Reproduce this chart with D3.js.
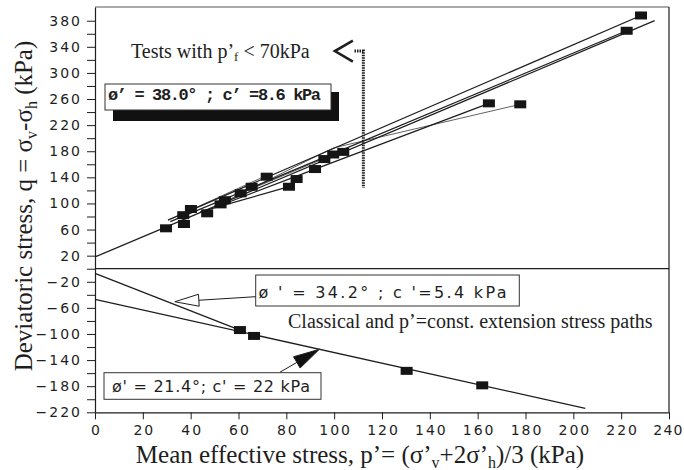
<!DOCTYPE html>
<html><head><meta charset="utf-8">
<script src="https://cdn.jsdelivr.net/npm/d3@7"></script>
<style>
body{margin:0;background:#fff;}
svg{display:block;}
</style></head><body>
<script>
// ---------------- data ----------------
// compression failure points (p', q)
const compP = [29.7, 37.2, 36.9, 40.1, 46.9, 52.5, 54.3, 60.9, 65.5, 71.8, 81.1, 84.3, 92.0, 95.9, 99.6, 103.8, 164.7, 177.8, 222.3, 228.3];
const compQ = [61.9, 68.5, 82.0, 91.5, 84.9, 98.6, 105.0, 115.5, 125.6, 141.0, 125.6, 137.4, 152.7, 168.0, 175.0, 179.0, 253.4, 251.9, 364.6, 388.0];
// extension failure points
const extP = [60.6, 66.5, 130.3, 161.9];
const extQ = [-94.0, -103.0, -156.5, -178.7];
// failure envelopes / stress paths (p', q) pairs
const envelopeComp = [[0, 18], [234, 380]];
const pathTop = [[30.5, 74.5], [228.3, 388]];
const path2 = [[31.5, 72], [222.3, 364.6]];
const path4 = [[53, 98], [92, 152.7], [164.7, 253.4]];
const path5 = [[44, 87], [81.1, 125.6]];
const thin1 = [[55, 104], [85.7, 160], [99.6, 185], [177.8, 251.9]];
const thin2 = [[60.9, 115.5], [103.8, 181]];
const thin3 = [[40, 90], [71.8, 143]];
const envExt1 = [[0, -7], [60.6, -94]];
const envExt2 = [[0, -47], [205, -214]];
// ticks
const xTicks = [0, 20, 40, 60, 80, 100, 120, 140, 160, 180, 200, 220, 240];
const yTicks = [-220, -200, -180, -160, -140, -120, -100, -80, -60, -40, -20, 0, 20, 40, 60, 80, 100, 120, 140, 160, 180, 200, 220, 240, 260, 280, 300, 320, 340, 360, 380];
const yLabels = [380, 340, 300, 260, 220, 180, 140, 100, 60, 20, -20, -60, -100, -140, -180, -220];

// ---------------- chart ----------------
const W = 684, H = 470;
const svg = d3.select("body").append("svg").attr("width", W).attr("height", H);
const x = d3.scaleLinear().domain([0, 240]).range([95, 669]);
const y = d3.scaleLinear().domain([-220, 401]).range([412.3, 7]);
const ink = "#1e1e1e";
const tickFont = "'DejaVu Sans', sans-serif";
const serif = "'Liberation Serif', 'Times New Roman', serif";

// frame top & right
svg.append("line").attr("x1", x(0)).attr("x2", x(240)).attr("y1", y(401)).attr("y2", y(401))
  .attr("stroke", "#555").attr("stroke-width", 1.2);
svg.append("line").attr("x1", x(240)).attr("x2", x(240)).attr("y1", y(401)).attr("y2", y(-220))
  .attr("stroke", ink).attr("stroke-width", 1.2);
// zero line
svg.append("line").attr("x1", x(0)).attr("x2", x(240)).attr("y1", y(0)).attr("y2", y(0))
  .attr("stroke", ink).attr("stroke-width", 1.2);

// axes
const fmt = d => (d < 0 ? "\u2212" + Math.abs(d) : String(d));
const yAxis = d3.axisLeft(y).tickValues(yTicks).tickSize(8).tickSizeOuter(0).tickPadding(5)
  .tickFormat(d => yLabels.includes(d) ? fmt(d) : "");
const gy = svg.append("g").attr("transform", `translate(${x(0)},0)`).call(yAxis);
const xAxis = d3.axisBottom(x).tickValues(xTicks).tickSize(7).tickSizeOuter(0).tickPadding(6);
const gx = svg.append("g").attr("transform", `translate(0,${y(-220)})`).call(xAxis);
[gx, gy].forEach(g => {
  g.select(".domain").attr("stroke", ink).attr("stroke-width", 1.2);
  g.selectAll(".tick line").attr("stroke", ink).attr("stroke-width", 1);
  g.selectAll(".tick text").attr("font-family", tickFont).attr("font-size", 14)
    .attr("letter-spacing", 2).attr("fill", ink);
});
gx.selectAll(".tick text").attr("dx", 1);
gx.selectAll(".tick text").filter(d => d === 240).attr("letter-spacing", 1.2).attr("dx", -1);

// lines
const line = d3.line().x(d => x(d[0])).y(d => y(d[1]));
const thick = [envelopeComp, pathTop, path2, path4, path5, envExt1, envExt2];
const thin = [thin1, thin2, thin3];
svg.append("g").selectAll("path").data(thick).join("path")
  .attr("d", line).attr("fill", "none").attr("stroke", ink).attr("stroke-width", 1.3);
svg.append("g").selectAll("path").data(thin).join("path")
  .attr("d", line).attr("fill", "none").attr("stroke", ink).attr("stroke-width", 0.7);

// squares
const pts = compP.map((p, i) => [p, compQ[i]]).concat(extP.map((p, i) => [p, extQ[i]]));
svg.append("g").selectAll("rect").data(pts).join("rect")
  .attr("x", d => x(d[0]) - 6).attr("y", d => y(d[1]) - 4)
  .attr("width", 12).attr("height", 8).attr("fill", "#151515");

// dotted marker for tests with p'f < 70 kPa
const tip0 = [x(100.3), y(333.5)];
svg.append("path")
  .attr("d", `M${x(108.5)},${tip0[1]}H${x(112.2)}V${y(124)}`)
  .attr("fill", "none").attr("stroke", ink).attr("stroke-width", 3).attr("stroke-dasharray", "1.5 1");
svg.append("path")
  .attr("d", `M${tip0[0] + 18},${tip0[1] - 10.5}L${tip0[0]},${tip0[1]}L${tip0[0] + 18},${tip0[1] + 10.5}`)
  .attr("fill", "none").attr("stroke", ink).attr("stroke-width", 2.6);

// annotation texts (serif)
const t1 = svg.append("text").attr("x", 131).attr("y", 57.5).attr("font-family", serif)
  .attr("font-size", 20).attr("fill", ink);
t1.append("tspan").text("Tests with p\u2019");
t1.append("tspan").attr("font-size", 13).attr("dy", 3).text("f");
t1.append("tspan").attr("dy", -3).text(" < 70kPa");

svg.append("text").attr("x", 288).attr("y", 328).attr("font-family", serif)
  .attr("font-size", 20).attr("fill", ink)
  .text("Classical and p\u2019=const. extension stress paths");

// box 38.0 with shadow
svg.append("rect").attr("x", 113).attr("y", 92).attr("width", 226).attr("height", 29).attr("fill", "#111");
svg.append("rect").attr("x", 105).attr("y", 84).attr("width", 226).attr("height", 26)
  .attr("fill", "#fff").attr("stroke", "#333").attr("stroke-width", 1);
svg.append("text").attr("x", 108).attr("y", 100).attr("font-family", "'Liberation Mono', 'Courier New', monospace")
  .attr("font-size", 17).attr("font-weight", "bold").attr("fill", ink)
  .attr("textLength", 213).attr("lengthAdjust", "spacing")
  .text("\u00f8\u2019 = 38.0\u00b0 ; c\u2019 =8.6 kPa");

// box 34.2
svg.append("rect").attr("x", 255.7).attr("y", 275).attr("width", 263.6).attr("height", 31)
  .attr("fill", "#fff").attr("stroke", "#333").attr("stroke-width", 1);
svg.append("text").attr("x", 258.5).attr("y", 298.3).attr("font-family", tickFont)
  .attr("font-size", 16).attr("fill", ink)
  .attr("textLength", 248).attr("lengthAdjust", "spacing")
  .text("\u00f8 ' = 34.2\u00b0 ; c '=5.4 kPa");

// box 21.4
svg.append("rect").attr("x", 104).attr("y", 372.7).attr("width", 217).attr("height", 26.6)
  .attr("fill", "#fff").attr("stroke", "#333").attr("stroke-width", 1);
svg.append("text").attr("x", 112).attr("y", 391.7).attr("font-family", tickFont)
  .attr("font-size", 16).attr("fill", ink)
  .attr("textLength", 198).attr("lengthAdjust", "spacing")
  .text("\u00f8' = 21.4\u00b0; c' = 22 kPa");

// arrows
function head(tip, tail, len, hw) {
  const dx = tip[0] - tail[0], dy = tip[1] - tail[1], L = Math.hypot(dx, dy);
  const ux = dx / L, uy = dy / L, bx = tip[0] - ux * len, by = tip[1] - uy * len;
  return { base: [bx, by], pts: [tip, [bx - uy * hw, by + ux * hw], [bx + uy * hw, by - ux * hw]] };
}
// open arrow to 34.2 line
{
  const tail = [255.7, 296.7], tip = [x(33.4), y(-50.6)];
  const h = head(tip, tail, 24, 6);
  svg.append("line").attr("x1", tail[0]).attr("y1", tail[1]).attr("x2", h.base[0]).attr("y2", h.base[1])
    .attr("stroke", ink).attr("stroke-width", 1);
  svg.append("polygon").attr("points", h.pts.map(p => p.join(",")).join(" "))
    .attr("fill", "#fff").attr("stroke", ink).attr("stroke-width", 1);
}
// filled arrow to 21.4 line
{
  const tail = [280, 372.2], tip = [x(93.8), y(-123.5)];
  const h = head(tip, tail, 26, 6.5);
  svg.append("line").attr("x1", tail[0]).attr("y1", tail[1]).attr("x2", h.base[0]).attr("y2", h.base[1])
    .attr("stroke", ink).attr("stroke-width", 1);
  svg.append("polygon").attr("points", h.pts.map(p => p.join(",")).join(" "))
    .attr("fill", "#111").attr("stroke", ink).attr("stroke-width", 1);
}

// axis titles
const xt = svg.append("text").attr("x", 360).attr("y", 462.7).attr("text-anchor", "middle")
  .attr("font-family", serif).attr("font-size", 25).attr("fill", ink);
xt.append("tspan").text("Mean effective stress, p\u2019= (\u03c3\u2019");
xt.append("tspan").attr("font-size", 16).attr("dy", 5).text("v");
xt.append("tspan").attr("dy", -5).text("+2\u03c3\u2019");
xt.append("tspan").attr("font-size", 16).attr("dy", 5).text("h");
xt.append("tspan").attr("dy", -5).text(")/3 (kPa)");

const yt = svg.append("text").attr("transform", "translate(32,206) rotate(-90)").attr("text-anchor", "middle")
  .attr("font-family", serif).attr("font-size", 25).attr("fill", ink);
yt.append("tspan").text("Deviatoric stress, q = \u03c3");
yt.append("tspan").attr("font-size", 16).attr("dy", 5).text("v");
yt.append("tspan").attr("dy", -5).text("-\u03c3");
yt.append("tspan").attr("font-size", 16).attr("dy", 5).text("h");
yt.append("tspan").attr("dy", -5).text(" (kPa)");
</script>
</body></html>
